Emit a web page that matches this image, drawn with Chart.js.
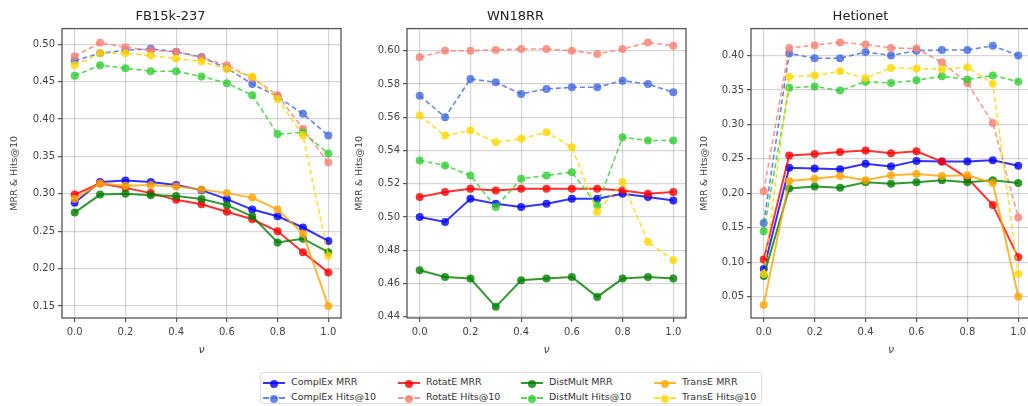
<!DOCTYPE html>
<html>
<head>
<meta charset="utf-8">
<script src="https://cdn.jsdelivr.net/npm/chart.js@4.4.1/dist/chart.umd.min.js"></script>
<style>
    body { margin: 0; background: #fff; width: 1028px; height: 406px; overflow: hidden; position: relative; font-family: 'DejaVu Sans', sans-serif; }
    canvas.panel { position: absolute; top: 0; }
    #legend { position: absolute; left: 260px; top: 372px; width: 502px; height: 32px; border: 1px solid #ddd; border-radius: 3px; box-sizing: border-box; }
    .item { position: absolute; font-size: 9.5px; color: #333; white-space: nowrap; }
    .mark { position: absolute; top: 5px; width: 22px; height: 0; }
    .dot { position: absolute; left: 7px; top: -4px; width: 8px; height: 8px; border-radius: 50%; }
    .label { position: absolute; left: 28px; top: -1px; }
</style>
</head>
<body>
<canvas id="chart-fb" class="panel" width="345" height="362" style="left:0px"></canvas>
<canvas id="chart-wn" class="panel" width="345" height="362" style="left:345px"></canvas>
<canvas id="chart-het" class="panel" width="345" height="362" style="left:690px"></canvas>
<div id="legend"></div>
<script>
// valores de nu (eixo x)
const nuValues = [0.0, 0.1, 0.2, 0.3, 0.4, 0.5, 0.6, 0.7, 0.8, 0.9, 1.0];
const xTicks = [0.0, 0.2, 0.4, 0.6, 0.8, 1.0];

// FB15k-237
const fbComplExMRR = [0.288, 0.316, 0.318, 0.316, 0.312, 0.305, 0.293, 0.279, 0.270, 0.255, 0.237];
const fbComplExHits = [0.478, 0.488, 0.492, 0.494, 0.490, 0.483, 0.468, 0.447, 0.430, 0.407, 0.378];
const fbRotatEMRR = [0.299, 0.314, 0.308, 0.301, 0.292, 0.286, 0.276, 0.266, 0.250, 0.222, 0.195];
const fbRotatEHits = [0.484, 0.502, 0.496, 0.492, 0.490, 0.482, 0.472, 0.455, 0.432, 0.387, 0.342];
const fbDistMultMRR = [0.275, 0.299, 0.300, 0.298, 0.297, 0.293, 0.285, 0.270, 0.235, 0.240, 0.222];
const fbDistMultHits = [0.458, 0.472, 0.468, 0.464, 0.464, 0.457, 0.448, 0.432, 0.380, 0.382, 0.354];
const fbTransEMRR = [0.293, 0.314, 0.311, 0.312, 0.310, 0.306, 0.301, 0.295, 0.279, 0.247, 0.150];
const fbTransEHits = [0.472, 0.488, 0.488, 0.485, 0.481, 0.477, 0.467, 0.457, 0.427, 0.378, 0.217];
const fbYTicks = [0.15, 0.20, 0.25, 0.30, 0.35, 0.40, 0.45, 0.50];

// WN18RR
const wnComplExMRR = [0.500, 0.497, 0.511, 0.508, 0.506, 0.508, 0.511, 0.511, 0.514, 0.512, 0.510];
const wnComplExHits = [0.573, 0.560, 0.583, 0.581, 0.574, 0.577, 0.578, 0.578, 0.582, 0.580, 0.575];
const wnRotatEMRR = [0.512, 0.515, 0.517, 0.516, 0.517, 0.517, 0.517, 0.517, 0.516, 0.514, 0.515];
const wnRotatEHits = [0.596, 0.600, 0.600, 0.6005, 0.601, 0.601, 0.600, 0.598, 0.601, 0.605, 0.603];
const wnDistMultMRR = [0.468, 0.464, 0.463, 0.446, 0.462, 0.463, 0.464, 0.452, 0.463, 0.464, 0.463];
const wnDistMultHits = [0.534, 0.531, 0.525, 0.506, 0.523, 0.525, 0.527, 0.507, 0.548, 0.546, 0.546];
const wnTransEMRR = [null, null, null, null, null, null, null, null, null, null, null];
const wnTransEHits = [0.561, 0.549, 0.552, 0.545, 0.547, 0.551, 0.542, 0.503, 0.521, 0.485, 0.474];
const wnYTicks = [0.44, 0.46, 0.48, 0.50, 0.52, 0.54, 0.56, 0.58, 0.60];

// Hetionet
const hetComplExMRR = [0.090, 0.237, 0.236, 0.235, 0.243, 0.239, 0.247, 0.246, 0.246, 0.248, 0.240];
const hetComplExHits = [0.157, 0.403, 0.396, 0.396, 0.405, 0.400, 0.407, 0.408, 0.408, 0.414, 0.400];
const hetRotatEMRR = [0.104, 0.255, 0.257, 0.260, 0.262, 0.258, 0.261, 0.246, 0.222, 0.183, 0.107];
const hetRotatEHits = [0.203, 0.411, 0.415, 0.419, 0.416, 0.411, 0.410, 0.390, 0.360, 0.302, 0.165];
const hetDistMultMRR = [0.080, 0.207, 0.210, 0.208, 0.216, 0.214, 0.216, 0.219, 0.216, 0.219, 0.215];
const hetDistMultHits = [0.145, 0.353, 0.355, 0.349, 0.362, 0.360, 0.364, 0.370, 0.365, 0.371, 0.362];
const hetTransEMRR = [0.038, 0.218, 0.221, 0.225, 0.219, 0.226, 0.228, 0.225, 0.226, 0.215, 0.050];
const hetTransEHits = [0.083, 0.369, 0.371, 0.377, 0.367, 0.382, 0.381, 0.380, 0.383, 0.359, 0.083];
const hetYTicks = [0.05, 0.10, 0.15, 0.20, 0.25, 0.30, 0.35, 0.40];

// nomes e cores das series (ordem do matplotlib)
const seriesNames = ['ComplEx MRR', 'ComplEx Hits@10', 'RotatE MRR', 'RotatE Hits@10',
    'DistMult MRR', 'DistMult Hits@10', 'TransE MRR', 'TransE Hits@10'];
const seriesColors = ['#0000ff', '#4169e1', '#ff0000', '#fa8072', '#008000', '#32cd32', '#ffa500', '#ffd700'];

function withAlpha(hex, a) {
    const r = parseInt(hex.slice(1, 3), 16), g = parseInt(hex.slice(3, 5), 16), b = parseInt(hex.slice(5, 7), 16);
    return `rgba(${r}, ${g}, ${b}, ${a})`;
}

// moldura completa em volta do grafico (estilo matplotlib)
const frameBox = {
    id: 'frameBox',
    afterDraw(chart) {
        const a = chart.chartArea;
        const ctx = chart.ctx;
        ctx.save();
        ctx.strokeStyle = '#555';
        ctx.lineWidth = 1.3;
        ctx.strokeRect(a.left, a.top, a.right - a.left, a.bottom - a.top);
        ctx.restore();
    }
};

function makePanel(canvasId, title, seriesList, yTicks, yMin, yMax, yAxisWidth) {
    const datasets = seriesList.map((values, i) => {
        const dashed = i % 2 === 1;
        return {
            label: seriesNames[i],
            data: nuValues.map((v, j) => ({ x: v, y: values[j] })),
            borderColor: withAlpha(seriesColors[i], 0.8),
            backgroundColor: withAlpha(seriesColors[i], 0.8),
            borderWidth: dashed ? 1.6 : 2,
            borderDash: dashed ? [5, 3] : [],
            pointRadius: 4,
            pointBorderWidth: 0,
            pointHoverRadius: 4,
            showLine: true,
            spanGaps: false,
            order: 10 - i
        };
    });

    const tickFont = { family: 'DejaVu Sans', size: 10 };
    const gridStyle = { color: 'rgba(0,0,0,0.16)', lineWidth: 1.2, tickLength: 4, tickColor: '#555', drawTicks: true };

    return new Chart(document.getElementById(canvasId).getContext('2d'), {
        type: 'scatter',
        data: { datasets: datasets },
        options: {
            responsive: false,
            animation: false,
            devicePixelRatio: 1,
            layout: { padding: { top: 0, right: 4, bottom: 0, left: 0 } },
            plugins: {
                legend: { display: false },
                tooltip: { enabled: false },
                title: {
                    display: true,
                    text: title,
                    color: '#222',
                    font: { family: 'DejaVu Sans', size: 13, weight: 'normal' },
                    padding: { top: 9, bottom: 4 }
                }
            },
            scales: {
                x: {
                    type: 'linear',
                    min: -0.05,
                    max: 1.05,
                    border: { display: false },
                    grid: gridStyle,
                    ticks: { font: tickFont, color: '#444', padding: 4, maxRotation: 0,
                        callback: v => v.toFixed(1) },
                    afterBuildTicks: scale => { scale.ticks = xTicks.map(v => ({ value: v })); },
                    afterFit: scale => { scale.height = 44; },
                    title: { display: true, text: 'ν', color: '#444', font: { family: 'DejaVu Sans', size: 11, style: 'italic' }, padding: { top: 0, bottom: 5 } }
                },
                y: {
                    type: 'linear',
                    min: yMin,
                    max: yMax,
                    border: { display: false },
                    grid: gridStyle,
                    ticks: { font: tickFont, color: '#444', padding: 3,
                        callback: v => v.toFixed(2) },
                    afterBuildTicks: scale => { scale.ticks = yTicks.map(v => ({ value: v })); },
                    afterFit: scale => { scale.width = yAxisWidth; },
                    title: { display: true, text: 'MRR & Hits@10', color: '#444', font: { family: 'DejaVu Sans', size: 9.5 }, padding: { top: 9, bottom: 0 } }
                }
            }
        },
        plugins: [frameBox]
    });
}

makePanel('chart-fb', 'FB15k-237',
    [fbComplExMRR, fbComplExHits, fbRotatEMRR, fbRotatEHits, fbDistMultMRR, fbDistMultHits, fbTransEMRR, fbTransEHits],
    fbYTicks, 0.134, 0.521, 62);
makePanel('chart-wn', 'WN18RR',
    [wnComplExMRR, wnComplExHits, wnRotatEMRR, wnRotatEHits, wnDistMultMRR, wnDistMultHits, wnTransEMRR, wnTransEHits],
    wnYTicks, 0.4393, 0.6133, 62);
makePanel('chart-het', 'Hetionet',
    [hetComplExMRR, hetComplExHits, hetRotatEMRR, hetRotatEHits, hetDistMultMRR, hetDistMultHits, hetTransEMRR, hetTransEHits],
    hetYTicks, 0.019, 0.439, 61);

// legenda em html (4 colunas, 2 linhas)
const legend = document.getElementById('legend');
const colX = [2, 137, 260, 393];
seriesNames.forEach((name, i) => {
    const col = Math.floor(i / 2), row = i % 2;
    const dashed = row === 1;
    const item = document.createElement('div');
    item.className = 'item';
    item.style.left = colX[col] + 'px';
    item.style.top = (4 + row * 15) + 'px';
    const c = withAlpha(seriesColors[i], 0.8);
    item.innerHTML = `
        <div class="mark" style="border-top: 2px ${dashed ? 'dashed' : 'solid'} ${c};">
            <div class="dot" style="background:${c}"></div>
        </div>
        <span class="label">${name}</span>`;
    legend.appendChild(item);
});
</script>
</body>
</html>
